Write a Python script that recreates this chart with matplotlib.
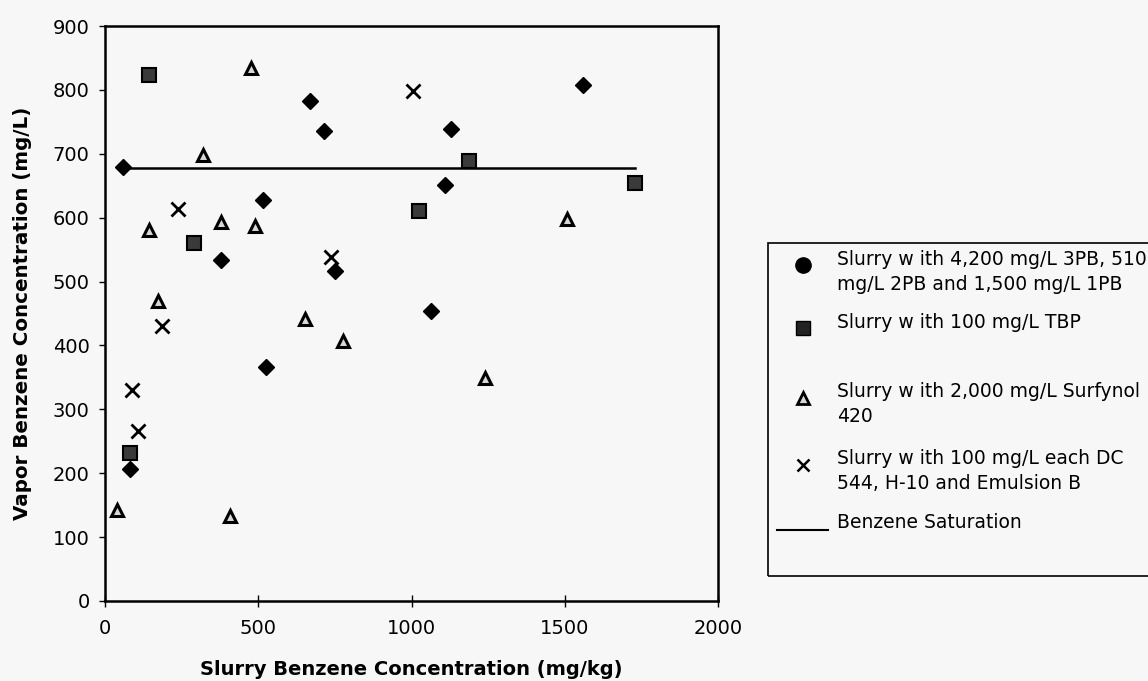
import matplotlib
matplotlib.use("Agg")
import matplotlib.pyplot as plt
from matplotlib.lines import Line2D
from matplotlib.patches import Rectangle

plt.rcParams['font.family'] = ['DejaVu Sans']

# Series: Slurry with 4,200 mg/L 3PB, 510 mg/L 2PB and 1,500 mg/L 1PB
pb_x = [60, 670, 715, 515, 378, 750, 525, 80, 1560, 1130, 1110, 1062]
pb_y = [680, 783, 736, 627, 534, 517, 367, 206, 808, 739, 651, 454]

# Series: Slurry with 100 mg/L TBP
tbp_x = [142, 292, 80, 1188, 1025, 1730]
tbp_y = [824, 561, 232, 689, 611, 655]

# Series: Slurry with 2,000 mg/L Surfynol 420
surf_x = [475, 320, 143, 377, 489, 172, 653, 777, 40, 408, 1508, 1241]
surf_y = [834, 698, 580, 594, 587, 470, 442, 407, 142, 133, 598, 349]

# Series: Slurry with 100 mg/L each DC 544, H-10 and Emulsion B
dc_x = [239, 185, 737, 87, 109, 1005]
dc_y = [614, 430, 538, 330, 266, 798]

# Benzene saturation line
sat_x = [60, 1730]
sat_y = [677, 677]

x_ticks = [0, 500, 1000, 1500, 2000]
y_ticks = [0, 100, 200, 300, 400, 500, 600, 700, 800, 900]

legend_labels = [
    "Slurry w ith 4,200 mg/L 3PB, 510\nmg/L 2PB and 1,500 mg/L 1PB",
    "Slurry w ith 100 mg/L TBP",
    "Slurry w ith 2,000 mg/L Surfynol\n420",
    "Slurry w ith 100 mg/L each DC\n544, H-10 and Emulsion B",
    "Benzene Saturation",
]

BG = '#f7f7f7'
W, H = 1148, 681
fig = plt.figure(figsize=(W / 100, H / 100), dpi=100, facecolor=BG)
ax = fig.add_axes([105 / W, 1 - 601 / H, (718 - 105) / W, (601 - 26) / H])
ax.set_facecolor(BG)

ax.plot(sat_x, sat_y, color='black', lw=1.8, zorder=2)
ax.plot(pb_x, pb_y, ls='none', marker='D', ms=8, mfc='black', mec='black', zorder=3)
ax.plot(tbp_x, tbp_y, ls='none', marker='s', ms=9.5, mfc='#3a3a3a', mec='black', mew=1.5, zorder=3)
ax.plot(surf_x, surf_y, ls='none', marker='^', ms=9, mfc='#d8d8d8', mec='black', mew=2.2, zorder=3)
ax.plot(dc_x, dc_y, ls='none', marker='x', ms=9.5, mec='black', mew=2.0, zorder=3)

ax.set_xlim(0, 2000)
ax.set_ylim(0, 900)
ax.set_xticks(x_ticks)
ax.set_yticks(y_ticks)
ax.tick_params(axis='x', direction='inout', length=8, width=1, labelsize=14, pad=9)
ax.tick_params(axis='y', direction='out', length=4, width=1, labelsize=14, pad=7)
for s in ax.spines.values():
    s.set_linewidth(1.8)

ax.set_xlabel("Slurry Benzene Concentration (mg/kg)", fontsize=14, fontweight='bold', labelpad=16)
ax.set_ylabel("Vapor Benzene Concentration (mg/L)", fontsize=14.3, fontweight='bold', labelpad=15)

# Legend box (extends beyond the right edge of the figure)
fig.patches.append(Rectangle((768 / W, 1 - 576 / H), (1160 - 768) / W, (576 - 243) / H,
                             transform=fig.transFigure, facecolor='none', edgecolor='black',
                             lw=1.2, clip_on=False))

text_x = 837 / W
mk_x = 803 / W
entries = [
    (272, 265, dict(marker='o', ms=11, mfc='black', mec='black')),
    (323, 328, dict(marker='s', ms=10, mfc='#222222', mec='black')),
    (404, 398, dict(marker='^', ms=9, mfc='#d8d8d8', mec='black', mew=2)),
    (471, 465, dict(marker='x', ms=8.5, mec='black', mew=1.8)),
]
for (yc, my, st), lab in zip(entries, legend_labels[:4]):
    fig.add_artist(Line2D([mk_x], [1 - my / H], transform=fig.transFigure, ls='none', **st))
    fig.text(text_x, 1 - yc / H, lab, ha='left', va='center', fontsize=13.5, linespacing=1.45)

fig.add_artist(Line2D([777 / W, 828 / W], [1 - 530 / H, 1 - 530 / H], transform=fig.transFigure,
                      color='black', lw=1.5))
fig.text(text_x, 1 - 523 / H, legend_labels[4], ha='left', va='center', fontsize=13.5)

fig.savefig("out.png", dpi=100, facecolor=BG)
